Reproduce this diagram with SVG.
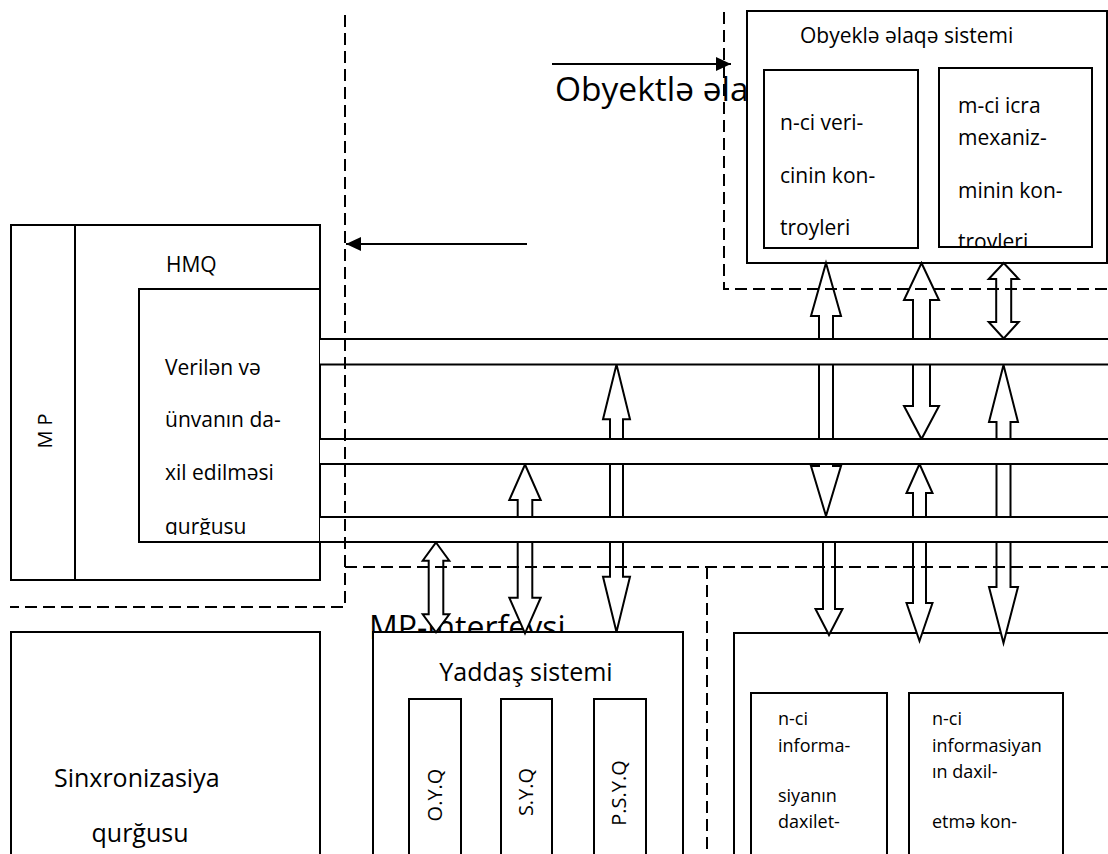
<svg xmlns="http://www.w3.org/2000/svg" width="1108" height="854" viewBox="0 0 1108 854">
  <style>
    text { font-family: "Open Sans", "Noto Sans", sans-serif; fill: #000; }
    .box { fill: #fff; stroke: #000; stroke-width: 2; }
    .ln { fill: none; stroke: #000; stroke-width: 2; }
    .dash { fill: none; stroke: #000; stroke-width: 2; stroke-dasharray: 12 6; }
    .arr { fill: #fff; stroke: #000; stroke-width: 2; stroke-linejoin: miter; }
    .band { fill: #fff; stroke: none; }
    .ptr { fill: none; stroke: #000; stroke-width: 2; marker-end: url(#head); }
  </style>
  <defs>
    <marker id="head" markerUnits="userSpaceOnUse" markerWidth="15" markerHeight="14" viewBox="0 0 15 14" refX="15" refY="7" orient="auto">
      <path d="M0,0 L15,7 L0,14 Z" fill="#000"/>
    </marker>
    <clipPath id="clipHmqText"><rect x="139" y="289" width="181" height="246"/></clipPath>
    <clipPath id="clipIcraText"><rect x="939" y="68" width="153" height="178"/></clipPath>
  </defs>

  <!-- large captions, partly covered by the blocks drawn afterwards -->
  <g id="captions">
    <text x="555" y="101" font-size="33.5">Obyektlə əla</text>
    <text x="369" y="639" font-size="32">MP-interfeysi</text>
  </g>

  <!-- microprocessor with the HMQ unit -->
  <g id="mp">
    <rect class="box" x="11" y="225" width="309" height="355"/>
    <line class="ln" x1="75" y1="225" x2="75" y2="580"/>
    <text transform="translate(45,431) rotate(-90)" text-anchor="middle" y="7" font-size="20">M P</text>
    <text x="166" y="272" font-size="21">HMQ</text>
  </g>
  <g id="hmq-input">
    <rect class="box" x="139" y="289" width="181" height="253"/>
    <text font-size="21" clip-path="url(#clipHmqText)">
      <tspan x="165" y="375">Verilən və</tspan>
      <tspan x="165" y="427">ünvanın da-</tspan>
      <tspan x="165" y="480">xil edilməsi</tspan>
      <tspan x="165" y="534">qurğusu</tspan>
    </text>
  </g>

  <!-- synchronisation unit -->
  <g id="sync">
    <rect class="box" x="11" y="632" width="309" height="240"/>
    <text text-anchor="middle" font-size="25">
      <tspan x="140" y="787">Sinxronizasiya</tspan>
      <tspan x="140" y="842">qurğusu</tspan>
    </text>
  </g>

  <!-- memory system -->
  <g id="memory">
    <rect class="box" x="373" y="632" width="310" height="240"/>
    <text x="526" y="681" text-anchor="middle" font-size="25">Yaddaş sistemi</text>
    <rect class="box" x="409" y="699" width="52" height="200"/>
    <rect class="box" x="501" y="699" width="51" height="200"/>
    <rect class="box" x="594" y="699" width="52" height="200"/>
    <text transform="translate(435,795) rotate(-90)" text-anchor="middle" y="7" font-size="20">O.Y.Q</text>
    <text transform="translate(526,792) rotate(-90)" text-anchor="middle" y="7" font-size="20">S.Y.Q</text>
    <text transform="translate(619,793) rotate(-90)" text-anchor="middle" y="7" font-size="20">P.S.Y.Q</text>
  </g>

  <!-- information input system -->
  <g id="info-input">
    <rect class="box" x="734" y="633" width="400" height="240"/>
    <rect class="box" x="751" y="693" width="136" height="200"/>
    <rect class="box" x="909" y="693" width="154" height="200"/>
    <text font-size="18">
      <tspan x="778" y="725">n-ci</tspan>
      <tspan x="778" y="752">informa-</tspan>
      <tspan x="778" y="802">siyanın</tspan>
      <tspan x="778" y="828">daxilet-</tspan>
    </text>
    <text font-size="18">
      <tspan x="932" y="725">n-ci</tspan>
      <tspan x="932" y="752">informasiyan</tspan>
      <tspan x="932" y="778">ın daxil-</tspan>
      <tspan x="932" y="828">etmə kon-</tspan>
    </text>
  </g>

  <!-- object link system -->
  <g id="object-link">
    <rect class="box" x="747" y="11" width="360" height="252"/>
    <text x="800" y="43" font-size="21">Obyeklə əlaqə sistemi</text>
    <rect class="box" x="764" y="70" width="154" height="178"/>
    <text font-size="21">
      <tspan x="780" y="130">n-ci veri-</tspan>
      <tspan x="780" y="183">cinin kon-</tspan>
      <tspan x="780" y="235">troyleri</tspan>
    </text>
    <rect class="box" x="939" y="68" width="153" height="179"/>
    <text font-size="21" clip-path="url(#clipIcraText)">
      <tspan x="958" y="113">m-ci icra</tspan>
      <tspan x="958" y="145">mexaniz-</tspan>
      <tspan x="958" y="198">minin kon-</tspan>
      <tspan x="958" y="249">troyleri</tspan>
    </text>
  </g>

  <!-- connectors: block arrows, buses, boundaries and pointers -->
  <g id="connectors">
    <!-- block arrows (parts inside the buses are hidden by the bus fill) -->
    <path class="arr" d="M826,263 L841,316 L833,316 L833,466 L841,466 L826,516 L811,466 L819,466 L819,316 L811,316 Z"/>
    <path class="arr" d="M823,525 L835,525 L835,609 L842.5,609 L829,635 L815.5,609 L823,609 Z"/>
    <path class="arr" d="M921.5,263 L939,300 L930,300 L930,406 L939,406 L921.5,439 L904,406 L913,406 L913,300 L904,300 Z"/>
    <path class="arr" d="M919.5,464 L932.5,493 L926,493 L926,603 L932.5,603 L919.5,641 L906.5,603 L913,603 L913,493 L906.5,493 Z"/>
    <path class="arr" d="M1003.7,263 L1018.7,279 L1011.2,279 L1011.2,322 L1018.7,322 L1003.7,338.5 L988.7,322 L996.2,322 L996.2,279 L988.7,279 Z"/>
    <path class="arr" d="M1003.5,365 L1018,422 L1010.5,422 L1010.5,587 L1018,587 L1003.5,643 L989,587 L996.5,587 L996.5,422 L989,422 Z"/>
    <path class="arr" d="M616.5,364.5 L630,419.3 L623,419.3 L623,576.7 L630,576.7 L616.5,632 L603,576.7 L610,576.7 L610,419.3 L603,419.3 Z"/>
    <path class="arr" d="M525,464.5 L540.7,500 L532.3,500 L532.3,597.7 L540.7,597.7 L525,633.3 L509.3,597.7 L517.7,597.7 L517.7,500 L509.3,500 Z"/>
    <path class="arr" d="M436,542.5 L449.3,560.7 L443.3,560.7 L443.3,614.3 L449.3,614.3 L436,632.3 L422.7,614.3 L428.7,614.3 L428.7,560.7 L422.7,560.7 Z"/>

    <!-- system buses -->
    <rect class="band" x="320" y="339" width="790" height="25.5"/>
    <rect class="band" x="320" y="439" width="790" height="25"/>
    <rect class="band" x="320" y="517" width="790" height="25"/>
    <path class="ln" d="M320,339 H1108 M320,364.5 H1108 M320,439 H1108 M320,464 H1108 M320,517 H1108 M139,542 H1108"/>

    <!-- subsystem boundaries -->
    <path class="dash" d="M345,15 V607 H10"/>
    <path class="dash" d="M724,12 V289 H1108"/>
    <path class="dash" d="M345,567 H1108"/>
    <path class="dash" d="M707,567 V854"/>

    <!-- pointers -->
    <line class="ptr" x1="552" y1="64" x2="731" y2="64"/>
    <line class="ptr" x1="527" y1="244" x2="346" y2="244"/>
  </g>
</svg>
